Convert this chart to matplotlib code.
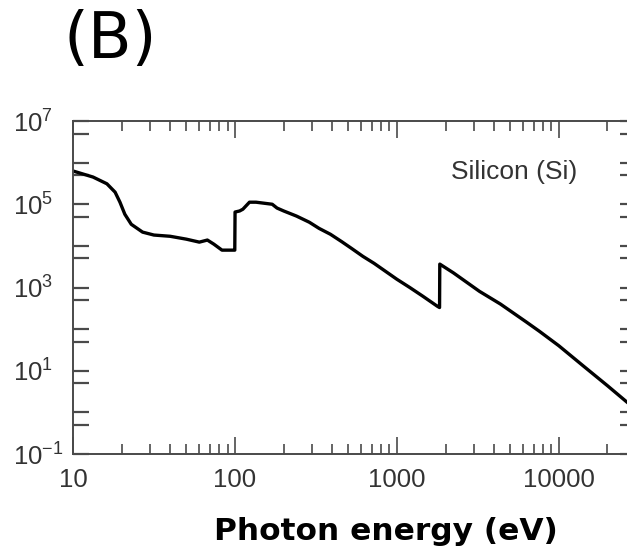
import matplotlib
matplotlib.use('Agg')
import matplotlib.pyplot as plt
from matplotlib.ticker import FixedLocator, FixedFormatter, NullFormatter

plt.rcParams['mathtext.fontset'] = 'custom'
plt.rcParams['mathtext.rm'] = 'Liberation Sans'
plt.rcParams['mathtext.it'] = 'Liberation Sans:italic'
plt.rcParams['mathtext.bf'] = 'Liberation Sans:bold'
plt.rcParams['mathtext.default'] = 'regular'

# Silicon absorption coefficient vs photon energy
energy_ev = [10, 13.3, 16.2, 18.2, 19.5, 20.9, 22.9, 26.9, 31.6, 39.8, 50.1,
             60.3, 67.6, 74.1, 83.2, 97.7, 99.8, 100.2, 107, 112, 123, 135,
             170, 182, 200, 240, 288, 331, 389, 457, 525, 617, 724, 851,
             1000, 1202, 1445, 1778, 1836, 1842, 2239, 3236, 4365, 6310, 7586,
             10000, 14125, 19953, 26303, 30000]
absorption = [6.3e5, 4.5e5, 3.1e5, 1.95e5, 1.12e5, 5.75e4, 3.3e4, 2.14e4,
              1.82e4, 1.7e4, 1.45e4, 1.23e4, 1.38e4, 1.1e4, 7.9e3, 7.9e3,
              7.9e3, 6.5e4, 6.9e4, 7.6e4, 1.12e5, 1.12e5, 1.0e5, 8.1e4, 6.9e4,
              5.2e4, 3.7e4, 2.63e4, 1.9e4, 1.26e4, 8.7e3, 5.6e3, 3.8e3, 2.45e3,
              1.58e3, 1.0e3, 6.2e2, 3.55e2, 3.3e2, 3.65e3, 2.24e3, 8.1e2, 4.0e2,
              1.48e2, 89, 40, 13.2, 4.4, 1.78, 1.17]

x_major = [10, 100, 1000, 10000]
x_labels = ['10', '100', '1000', '10000']
x_minor = [m * d for d in (10, 100, 1000, 10000) for m in range(2, 10)]
y_exponents = list(range(-1, 8))
y_major = [10.0 ** e for e in y_exponents]
y_labels = ['$10^{%d}$' % e if e % 2 else '' for e in y_exponents]
y_minor = [5 * 10.0 ** e for e in range(-2, 7)]

W, H = 627, 554
fig = plt.figure(figsize=(W / 100, H / 100), dpi=100)
left, right, top, bottom = 73, 636, 121, 454
ax = fig.add_axes([left / W, 1 - bottom / H, (right - left) / W, (bottom - top) / H])

ax.plot(energy_ev, absorption, color='black', lw=2.4, solid_joinstyle='round')
ax.set_xscale('log')
ax.set_yscale('log')
ax.set_xlim(10, 30000)
ax.set_ylim(1e-1, 1e7)

spine_col = '#4a4a4a'
for s in ax.spines.values():
    s.set_color(spine_col)
    s.set_linewidth(1.4)

ax.xaxis.set_major_locator(FixedLocator(x_major))
ax.xaxis.set_major_formatter(FixedFormatter(x_labels))
ax.xaxis.set_minor_locator(FixedLocator(x_minor))
ax.xaxis.set_minor_formatter(NullFormatter())
ax.yaxis.set_major_locator(FixedLocator(y_major))
ax.yaxis.set_major_formatter(FixedFormatter(y_labels))
ax.yaxis.set_minor_locator(FixedLocator(y_minor))
ax.yaxis.set_minor_formatter(NullFormatter())

ax.tick_params(axis='x', which='major', direction='in', length=12, width=1.2,
               top=True, bottom=True, color=spine_col, pad=10)
ax.tick_params(axis='x', which='minor', direction='in', length=7, width=1.2,
               top=True, bottom=True, color=spine_col)
ax.tick_params(axis='y', which='both', direction='in', length=11.5, width=1.6,
               left=True, right=True, color=spine_col, pad=43)
for lab in ax.get_xticklabels():
    lab.set_fontfamily('Liberation Sans')
    lab.set_fontsize(18.5)
    lab.set_color('#333333')
for lab in ax.get_yticklabels():
    lab.set_fontfamily('Liberation Sans')
    lab.set_fontsize(18.5)
    lab.set_color('#333333')
    lab.set_horizontalalignment('left')

fig.text(577 / W, 1 - 172 / H, 'Silicon (Si)', ha='right', va='center',
         fontsize=19, color='#333333', family='Liberation Sans')
fig.text(386 / W, 1 - 531 / H, 'Photon energy (eV)', ha='center', va='center',
         fontsize=22.5, fontweight='bold', family='DejaVu Sans', color='black')
fig.text(110 / W, 1 - 40 / H, '(B)', ha='center', va='center',
         fontsize=46, family='DejaVu Sans', color='black')

fig.savefig('out.png', dpi=100)
